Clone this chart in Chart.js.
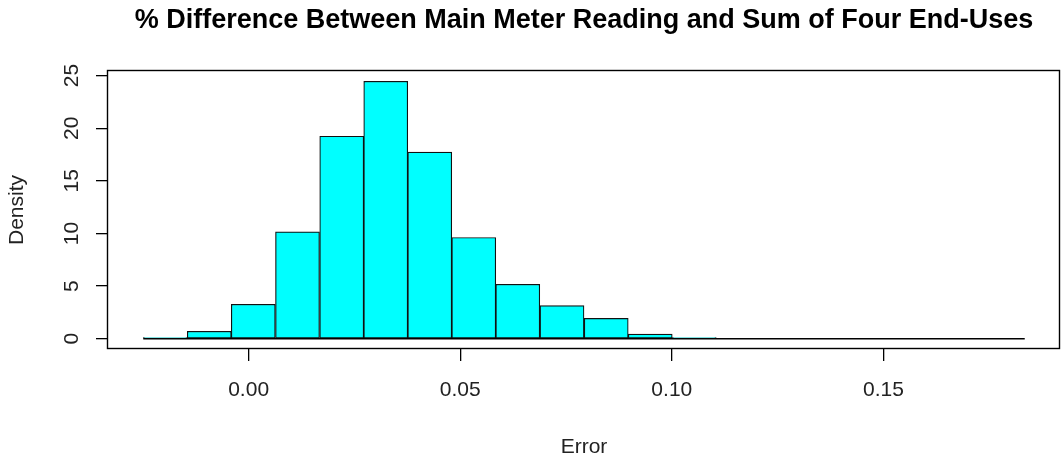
<!DOCTYPE html>
<html>
<head>
<meta charset="utf-8">
<title>% Difference Between Main Meter Reading and Sum of Four End-Uses</title>
<script src="https://cdn.jsdelivr.net/npm/chart.js@4.4.1/dist/chart.umd.min.js"></script>
<style>
  html, body { margin: 0; padding: 0; background: #ffffff; }
  #wrap { width: 1061px; height: 458px; }
</style>
</head>
<body>
<div id="wrap"><canvas id="hist" width="1061" height="458"></canvas></div>
<script>
// Histogram bin boundaries (20 equal-width bins)
const breaks = [-0.0249, -0.0145, -0.0041, 0.0063, 0.0168, 0.0272, 0.0376, 0.0480,
                0.0584, 0.0688, 0.0793, 0.0897, 0.1001, 0.1105, 0.1209, 0.1313,
                0.1417, 0.1522, 0.1626, 0.1730, 0.1834];
// Density of each bin
const density = [0.1, 0.7, 3.27, 10.15, 19.24, 24.46, 17.74, 9.62, 5.17, 3.14,
                 1.93, 0.44, 0.1, 0, 0, 0, 0, 0, 0, 0];
// Axis tick values
const xTicks = [0, 0.05, 0.10, 0.15];
const yTicks = [0, 5, 10, 15, 20, 25];

const titleText = '% Difference Between Main Meter Reading and Sum of Four End-Uses';
const xTitle = 'Error';
const yTitle = 'Density';

const FONT = '"Liberation Sans", Arial, Helvetica, sans-serif';

// Axis limits padded 4% beyond the data range on each side
const xSpan = breaks[breaks.length - 1] - breaks[0];
const xMin = breaks[0] - 0.04 * xSpan;
const xMax = breaks[breaks.length - 1] + 0.04 * xSpan;
const yTop = Math.max(...density);
const yMin = -0.04 * yTop;
const yMax = yTop * 1.04;

const bars = density.map((d, i) => ({ x: (breaks[i] + breaks[i + 1]) / 2, y: d }));
const baseline = [{ x: breaks[0], y: 0 }, { x: breaks[breaks.length - 1], y: 0 }];

// Frame, main title and axis titles
const decorations = {
  id: 'decorations',
  afterDraw(chart) {
    const { ctx, chartArea: a } = chart;
    ctx.save();
    ctx.strokeStyle = '#000';
    ctx.lineWidth = 1.4;
    ctx.strokeRect(a.left - 0.5, a.top - 0.5, a.right - a.left, a.bottom - a.top);

    const cx = (a.left + a.right) / 2;
    ctx.fillStyle = '#000';
    ctx.textAlign = 'center';
    ctx.textBaseline = 'alphabetic';
    ctx.font = 'bold 27px ' + FONT;
    ctx.fillText(titleText, cx, 28);

    ctx.fillStyle = '#222';
    ctx.font = '21px ' + FONT;
    ctx.fillText(xTitle, cx, 453);

    ctx.translate(23, (a.top + a.bottom) / 2);
    ctx.rotate(-Math.PI / 2);
    ctx.fillText(yTitle, 0, 0);
    ctx.restore();
  }
};

new Chart(document.getElementById('hist'), {
  type: 'bar',
  data: {
    datasets: [
      {
        type: 'line',
        data: baseline,
        borderColor: '#000',
        borderWidth: 1.4,
        pointRadius: 0,
        fill: false
      },
      {
        type: 'bar',
        data: bars,
        backgroundColor: '#00ffff',
        borderColor: '#111111',
        borderWidth: 1.2,
        borderSkipped: false,
        barPercentage: 1,
        categoryPercentage: 1,
        grouped: false
      }
    ]
  },
  options: {
    responsive: false,
    animation: false,
    events: [],
    layout: { padding: { left: 0, right: 1, top: 71, bottom: 0 } },
    plugins: {
      legend: { display: false },
      tooltip: { enabled: false },
      title: { display: false }
    },
    scales: {
      x: {
        type: 'linear',
        min: xMin,
        max: xMax,
        offset: false,
        afterBuildTicks: s => { s.ticks = xTicks.map(v => ({ value: v })); },
        afterFit: s => { s.height = 109; },
        border: { display: false },
        grid: {
          offset: false,
          drawOnChartArea: false,
          drawTicks: true,
          tickLength: 12,
          tickColor: '#000',
          lineWidth: 1.3
        },
        ticks: {
          padding: 17,
          color: '#222',
          font: { family: FONT, size: 21 },
          maxRotation: 0,
          minRotation: 0,
          callback: v => v.toFixed(2)
        }
      },
      y: {
        type: 'linear',
        min: yMin,
        max: yMax,
        afterBuildTicks: s => { s.ticks = yTicks.map(v => ({ value: v })); },
        afterFit: s => { s.width = 108; },
        border: { display: false },
        grid: {
          drawOnChartArea: false,
          drawTicks: true,
          tickLength: 12,
          tickColor: '#000',
          lineWidth: 1.3
        },
        ticks: {
          padding: 12,
          color: '#222',
          crossAlign: 'center',
          minRotation: 90,
          maxRotation: 90,
          font: { family: FONT, size: 21 },
          callback: v => String(v)
        }
      }
    }
  },
  plugins: [decorations]
});
</script>
</body>
</html>
